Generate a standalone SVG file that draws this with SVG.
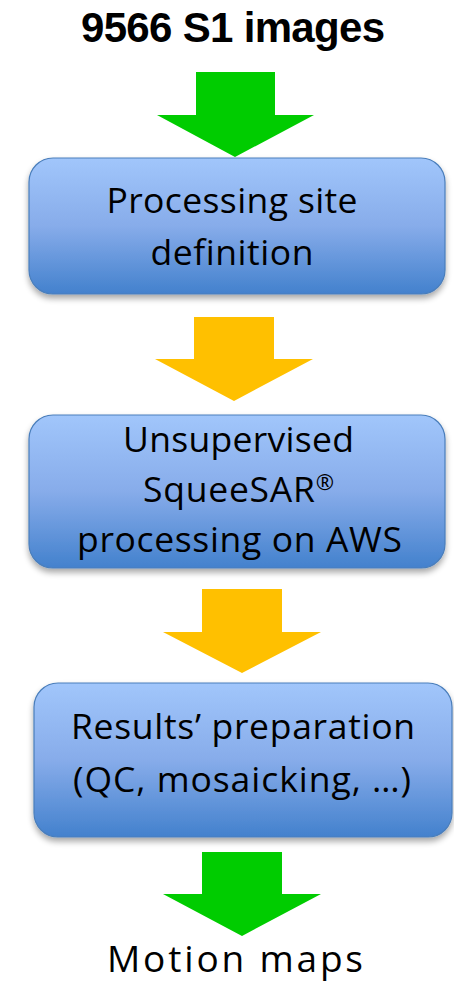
<svg xmlns="http://www.w3.org/2000/svg" width="454" height="984" viewBox="0 0 454 984">
<style>
text{font-family:"Open Sans","Liberation Sans",Arial,sans-serif;fill:#000;text-anchor:middle;font-variant-ligatures:none}
text.title{font-family:"Liberation Sans",Arial,sans-serif;font-size:42px;font-weight:bold}
.t{font-size:35.5px}
.box{fill:url(#g);stroke:#4a7ebb;stroke-width:1.2;filter:url(#sh)}
.green{fill:#00cc00}
.orange{fill:#ffc000}
</style>
<defs>
<linearGradient id="g" x1="0" y1="0" x2="0" y2="1">
<stop offset="0" stop-color="#a1c6fb"/>
<stop offset="0.5" stop-color="#87acea"/>
<stop offset="1" stop-color="#4381cd"/>
</linearGradient>
<filter id="sh" x="-10%" y="-10%" width="120%" height="130%">
<feGaussianBlur in="SourceAlpha" stdDeviation="3"/>
<feOffset dx="0" dy="4" result="b"/>
<feComponentTransfer><feFuncA type="linear" slope="0.35"/></feComponentTransfer>
<feMerge><feMergeNode/><feMergeNode in="SourceGraphic"/></feMerge>
</filter>
</defs>
<g id="title"><text class="title" x="233" y="42" textLength="304">9566 S1 images</text></g>
<g id="connectors">
<polygon class="green" points="196,72 275,72 275,115 314,115 235,157 157,115 196,115"/>
<polygon class="orange" points="194,317 274,317 274,359 313,359 234,401 155,359 194,359"/>
<polygon class="orange" points="202,589 282,589 282,632 321,632 242,673 163,632 202,632"/>
<polygon class="green" points="202,852 282,852 282,894 321,894 242,936 163,894 202,894"/>
</g>
<g id="box1">
<rect class="box" x="29" y="158" width="416" height="136" rx="24"/>
<text class="t" x="232" y="213" textLength="251">Processing site</text>
<text class="t" x="232" y="265" textLength="163">definition</text>
</g>
<g id="box2">
<rect class="box" x="29" y="415" width="416" height="153" rx="24"/>
<text class="t" x="238.5" y="452" textLength="231">Unsupervised</text>
<text class="t" x="238.5" y="502" textLength="191">SqueeSAR<tspan font-size="22" dy="-12">®</tspan></text>
<text class="t" x="239.5" y="552" textLength="325">processing on AWS</text>
</g>
<g id="box3">
<rect class="box" x="34" y="683" width="418" height="154" rx="24"/>
<text class="t" x="243" y="739" textLength="344">Results’ preparation</text>
<text class="t" x="242" y="792" textLength="338">(QC, mosaicking, …)</text>
</g>
<g id="output"><text x="235" y="972" font-size="37" textLength="256">Motion maps</text></g>
</svg>
